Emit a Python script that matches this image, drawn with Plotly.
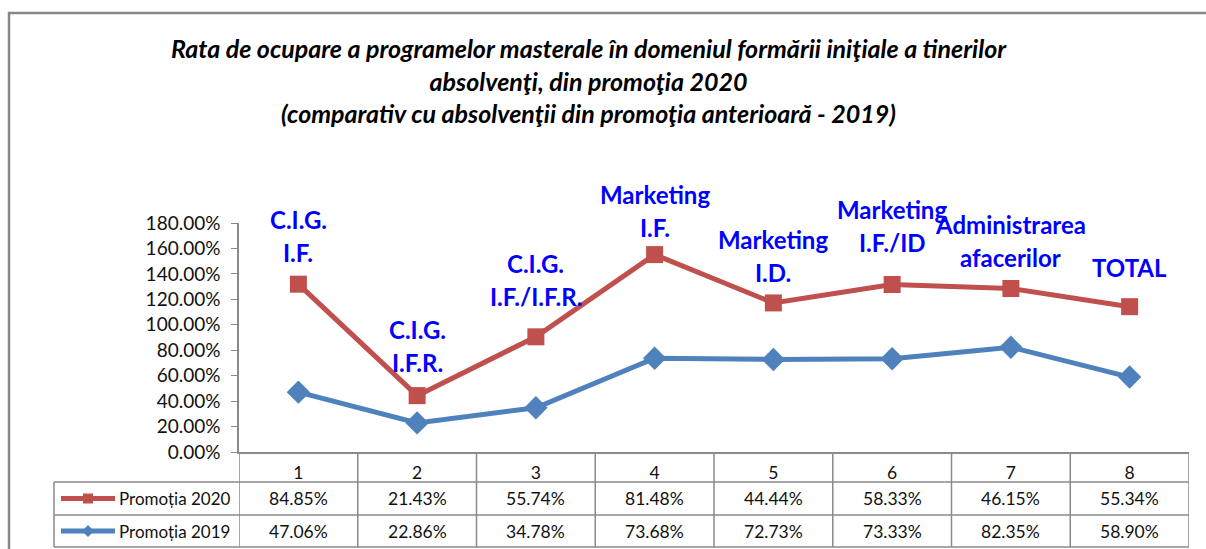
import plotly.graph_objects as go

categories = ["1", "2", "3", "4", "5", "6", "7", "8"]
promotia_2020 = [84.85, 21.43, 55.74, 81.48, 44.44, 58.33, 46.15, 55.34]
promotia_2019 = [47.06, 22.86, 34.78, 73.68, 72.73, 73.33, 82.35, 58.90]
point_labels = ["C.I.G.<br>I.F.", "C.I.G.<br>I.F.R.", "C.I.G.<br>I.F./I.F.R.",
                "Marketing<br>I.F.", "Marketing<br>I.D.", "Marketing<br>I.F./ID",
                "Administrarea<br>afacerilor", "TOTAL"]
series_names = ["Promoția 2020", "Promoția 2019"]
y_ticks = [0, 20, 40, 60, 80, 100, 120, 140, 160, 180]
title_text = ("Rata de ocupare a programelor masterale în domeniul formării iniţiale a tinerilor<br>"
              "absolvenţi, din promoţia 2020<br>"
              "(comparativ cu absolvenţii din promoţia anterioară - 2019)")

RED = "#C0504D"
BLUE = "#4F81BD"
GRID = "#8a8a8a"
FONT = "Lato"

W, H = 1206, 549
L, R, T, B = 239, 1189, 223, 452  # plot area in pixels
PW, PH = R - L, B - T


def px(xp):
    return (xp - L) / PW


def py(yp):
    return (B - yp) / PH


x = list(range(1, len(categories) + 1))
stacked = [a + b for a, b in zip(promotia_2019, promotia_2020)]

fig = go.Figure()
fig.add_trace(go.Scatter(
    x=x, y=promotia_2019, name=series_names[1], stackgroup="s", fill="none",
    mode="lines+markers", line=dict(color=BLUE, width=5),
    marker=dict(symbol="diamond", size=18, color=BLUE)))
fig.add_trace(go.Scatter(
    x=x, y=promotia_2020, name=series_names[0], stackgroup="s", fill="none",
    mode="lines+markers", line=dict(color=RED, width=5),
    marker=dict(symbol="square", size=17, color=RED)))

annotations = []
label_dy = [32, 33, 40, 27, 30, 42, 31, 39]
for i, lab in enumerate(point_labels):
    lines = lab.split("<br>")
    for j, line in enumerate(reversed(lines)):
        annotations.append(dict(
            x=x[i], y=stacked[i], xref="x", yref="y", text=line, showarrow=False,
            yshift=label_dy[i] + j * 33, yanchor="middle", xanchor="center",
            font=dict(family=FONT, size=24, color="#0000FF", weight="bold")))

# table
rows_px = [452, 482, 515, 547]
row_centers = [(rows_px[1] + rows_px[2]) / 2, (rows_px[2] + rows_px[3]) / 2]
for vals, yc in zip([promotia_2020, promotia_2019], row_centers):
    for i, v in enumerate(vals):
        annotations.append(dict(
            x=x[i], y=py(yc), xref="x", yref="paper", text=f"{v:.2f}%",
            showarrow=False, xanchor="center", yanchor="middle",
            font=dict(family=FONT, size=17.5, color="#111111")))
for name, yc in zip(series_names, row_centers):
    annotations.append(dict(
        x=px(117), y=py(yc), xref="paper", yref="paper", text=name,
        showarrow=False, xanchor="left", yanchor="middle",
        font=dict(family=FONT, size=17, color="#111111")))

shapes = []
# outer frame
shapes.append(dict(type="rect", xref="paper", yref="paper",
                   x0=px(9), x1=px(1230), y0=py(13), y1=py(600),
                   line=dict(color="#878787", width=2.5), layer="below"))
tbl_line = dict(color=GRID, width=1.5)
# horizontal table lines
for yp in rows_px[1:]:
    shapes.append(dict(type="line", xref="paper", yref="paper",
                       x0=px(54), x1=1, y0=py(yp), y1=py(yp), line=tbl_line))
# vertical table lines
for k in range(len(categories) + 1):
    shapes.append(dict(type="line", xref="x", yref="paper",
                       x0=k + 0.5, x1=k + 0.5, y0=0, y1=py(rows_px[3]), line=tbl_line))
shapes.append(dict(type="line", xref="paper", yref="paper",
                   x0=px(54), x1=px(54), y0=py(rows_px[1]), y1=py(rows_px[3]), line=tbl_line))
# legend keys
for color, yc, sym in zip([RED, BLUE], row_centers, ["square", "diamond"]):
    shapes.append(dict(type="line", xref="paper", yref="paper",
                       x0=px(61), x1=px(115), y0=py(yc), y1=py(yc),
                       line=dict(color=color, width=5)))
    if sym == "square":
        shapes.append(dict(type="rect", xref="paper", yref="paper",
                           x0=px(83), x1=px(93), y0=py(yc - 5), y1=py(yc + 5),
                           fillcolor=color, line=dict(width=0)))
    else:
        shapes.append(dict(type="path", xref="paper", yref="paper",
                           path=f"M {px(82)} {py(yc)} L {px(88)} {py(yc - 6)} L {px(94)} {py(yc)} L {px(88)} {py(yc + 6)} Z",
                           fillcolor=color, line=dict(width=0)))

fig.update_layout(
    width=W, height=H,
    margin=dict(l=L, r=W - R, t=T, b=H - B),
    paper_bgcolor="white", plot_bgcolor="white",
    showlegend=False,
    title=dict(text=title_text, x=0.488, xref="container", xanchor="center",
               y=1 - 58 / H, yref="container", yanchor="middle",
               font=dict(family=FONT, size=25, color="black", weight="bold", style="italic")),
    xaxis=dict(range=[0.5, 8.5], tickvals=x, ticktext=categories, showgrid=False,
               zeroline=False, showline=True, linecolor=GRID, linewidth=1.5,
               ticks="", ticklabelstandoff=4,
               tickfont=dict(family=FONT, size=17.5, color="#111111")),
    yaxis=dict(range=[0, 180], tickvals=y_ticks,
               ticktext=[f"{v:.2f}%" for v in y_ticks], showgrid=False,
               zeroline=False, showline=True, linecolor=GRID, linewidth=1.5,
               ticks="outside", ticklen=6, tickcolor=GRID, ticklabelstandoff=7,
               tickfont=dict(family=FONT, size=19, color="#111111")),
    annotations=annotations, shapes=shapes,
)

fig.write_html("out.html", config={"displayModeBar": False},
               post_script="document.body.style.margin='0px';document.body.style.padding='0px';")
